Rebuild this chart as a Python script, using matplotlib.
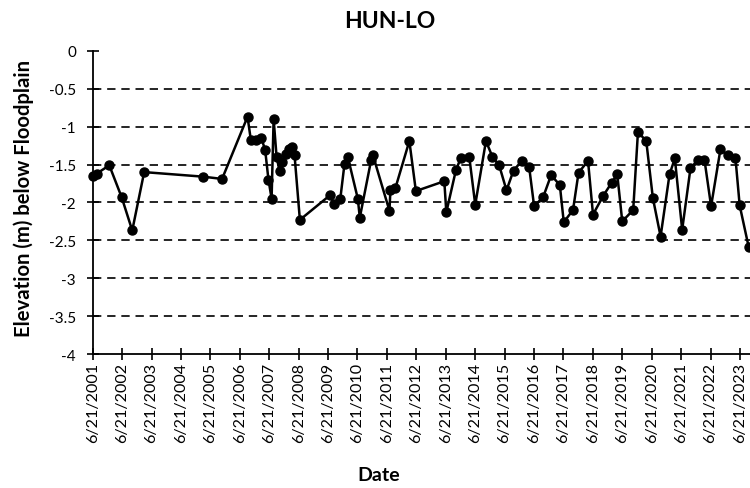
import numpy as np
import pandas as pd
import matplotlib
matplotlib.use("Agg")
import matplotlib.pyplot as plt

plt.rcParams['font.family'] = ['Lato', 'DejaVu Sans']

# survey dates and elevation below floodplain (m)
dates = [
    "2001-06-21", "2001-08-10", "2002-01-13", "2002-06-15", "2002-10-25",
    "2003-03-22", "2005-03-22", "2005-11-13", "2006-09-25", "2006-11-06",
    "2007-01-13", "2007-03-16", "2007-05-02", "2007-06-12", "2007-07-21",
    "2007-08-15", "2007-09-21", "2007-10-29", "2007-11-29", "2008-01-11",
    "2008-02-17", "2008-03-25", "2008-05-01", "2008-07-06", "2009-07-21",
    "2009-08-28", "2009-11-19", "2010-01-11", "2010-02-21", "2010-06-25",
    "2010-07-20", "2010-12-08", "2010-12-28", "2011-07-23", "2011-08-04",
    "2011-10-05", "2012-03-26", "2012-06-15", "2013-06-03", "2013-06-28",
    "2013-10-26", "2013-12-27", "2014-04-09", "2014-06-22", "2014-11-02",
    "2015-01-22", "2015-04-15", "2015-07-15", "2015-10-10", "2016-01-22",
    "2016-04-21", "2016-06-22", "2016-10-12", "2017-01-19", "2017-05-07",
    "2017-06-25", "2017-10-18", "2017-12-25", "2018-04-22", "2018-06-23",
    "2018-10-29", "2019-02-10", "2019-04-20", "2019-06-21", "2019-11-04",
    "2020-01-02", "2020-04-14", "2020-07-05", "2020-10-09", "2021-01-28",
    "2021-04-04", "2021-07-04", "2021-10-15", "2022-01-14", "2022-04-07",
    "2022-06-28", "2022-10-22", "2023-01-21", "2023-04-26", "2023-06-18",
    "2023-10-08",
]
elev = [
    -1.65, -1.62, -1.51, -1.93, -2.37,
    -1.60, -1.66, -1.69, -0.87, -1.18,
    -1.17, -1.15, -1.31, -1.70, -1.95,
    -0.90, -1.40, -1.59, -1.47, -1.36,
    -1.30, -1.27, -1.38, -2.23, -1.90,
    -2.02, -1.96, -1.49, -1.40, -1.95,
    -2.20, -1.44, -1.37, -2.11, -1.84,
    -1.81, -1.19, -1.85, -1.72, -2.13,
    -1.57, -1.41, -1.40, -2.03, -1.19,
    -1.40, -1.51, -1.84, -1.58, -1.45,
    -1.53, -2.05, -1.93, -1.64, -1.77,
    -2.26, -2.10, -1.61, -1.45, -2.16,
    -1.91, -1.74, -1.63, -2.25, -2.10,
    -1.07, -1.19, -1.94, -2.45, -1.63,
    -1.42, -2.36, -1.55, -1.44, -1.44,
    -2.05, -1.30, -1.38, -1.41, -2.04,
    -2.59,
]
tick_years = list(range(2001, 2024))
y_ticks = [0, -0.5, -1, -1.5, -2, -2.5, -3, -3.5, -4]

dates = pd.to_datetime(dates)
ticks = pd.to_datetime([f"{y}-06-21" for y in tick_years])

fig = plt.figure(figsize=(7.5, 4.89), dpi=100)
ax = fig.add_axes([0.1236, 0.274, 0.8764, 0.620])

ax.plot(dates, elev, color='black', lw=1.8, marker='o', ms=6.5,
        clip_on=False, zorder=3)

ax.set_ylim(-4, 0)
ax.set_yticks(y_ticks)
ax.set_yticklabels([f"{v:g}" for v in y_ticks])
x0 = ticks[0]
ax.set_xlim(x0, x0 + pd.Timedelta(days=8160))
ax.set_xticks(ticks)
ax.set_xticklabels([f"{d.month}/{d.day}/{d.year}" for d in ticks],
                   rotation=90)

# dashed horizontal gridlines
for v in y_ticks[1:-1]:
    ax.axhline(v, color='black', lw=1.2, ls=(0, (5, 3.5)), zorder=1)

for s in ['top', 'right']:
    ax.spines[s].set_visible(False)
ax.spines['left'].set_linewidth(1.3)
ax.spines['bottom'].set_linewidth(1.3)
ax.tick_params(axis='both', direction='inout', length=8, width=1.2,
               colors='black')
ax.tick_params(axis='y', labelsize=11, pad=8)
ax.tick_params(axis='x', labelsize=11.6, pad=2)

fig.text(0.52, 0.957, "HUN-LO", ha='center', va='center',
         fontsize=16.5, fontweight='bold')
fig.text(0.505, 0.027, "Date", ha='center', va='center',
         fontsize=14, fontweight='bold')
fig.text(0.031, 0.595, "Elevation (m) below Floodplain", ha='center',
         va='center', rotation=90, fontsize=14.6, fontweight='bold')

fig.savefig("out.png", dpi=100)
